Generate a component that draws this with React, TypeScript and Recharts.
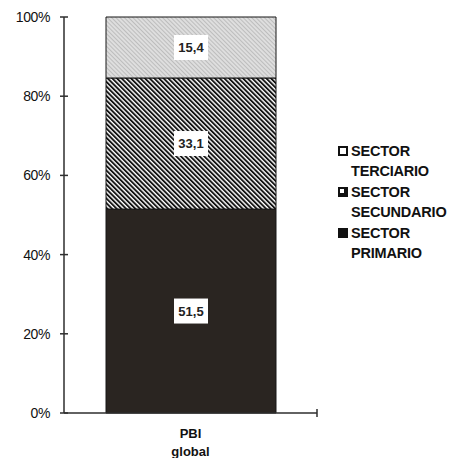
import React from "react";
import { BarChart, Bar, XAxis, YAxis, Legend, LabelList } from "recharts";

const CATEGORIES = ["PBI global"];
const CATEGORY_LINES = [["PBI", "global"]];
const PRIMARIO = [51.5];
const SECUNDARIO = [33.1];
const TERCIARIO = [15.4];
const Y_TICKS = [0, 20, 40, 60, 80, 100];
const SERIES_NAMES = {
  primario: ["SECTOR", "PRIMARIO"],
  secundario: ["SECTOR", "SECUNDARIO"],
  terciario: ["SECTOR", "TERCIARIO"],
};

const data = CATEGORIES.map((c, i) => ({
  cat: c,
  primario: PRIMARIO[i],
  secundario: SECUNDARIO[i],
  terciario: TERCIARIO[i],
}));

const W = 453;
const H = 458;
const MARGIN = { top: 17, right: 136, bottom: 4, left: 0 };
const FONT = "'Liberation Sans', Arial, Helvetica, sans-serif";
const AXIS = "#2e2e2e";

const fmt = (v: number) => v.toFixed(1).replace(".", ",");

const YTick = (props: any) => {
  const { x, y, payload } = props;
  return (
    <g>
      <line x1={x - 4} x2={x + 4} y1={y} y2={y} stroke={AXIS} strokeWidth={1.5} />
      <text
        x={x - 14}
        y={y}
        dy={5}
        textAnchor="end"
        fontFamily={FONT}
        fontSize={14}
        letterSpacing={-0.4}
        fill="#111"
      >
        {payload.value}%
      </text>
    </g>
  );
};

const XTick = (props: any) => {
  const { x, y, index } = props;
  const lines = CATEGORY_LINES[index] || [];
  const endX = W - MARGIN.right;
  return (
    <g>
      <line x1={endX} x2={endX} y1={y - 4} y2={y + 4} stroke={AXIS} strokeWidth={1.5} />
      {lines.map((l, i) => (
        <text
          key={i}
          x={x}
          y={y + 25 + i * 18}
          textAnchor="middle"
          fontFamily={FONT}
          fontSize={13}
          fontWeight="bold"
          fill="#111"
        >
          {l}
        </text>
      ))}
    </g>
  );
};

const ValueLabel = (props: any) => {
  const { x, y, width, height, value } = props;
  const cx = x + width / 2;
  const cy = y + height / 2;
  const bw = 34;
  const bh = 25;
  return (
    <g>
      <rect x={cx - bw / 2} y={cy - bh / 2} width={bw} height={bh} fill="#ffffff" />
      <text
        x={cx}
        y={cy}
        dy={4.5}
        textAnchor="middle"
        fontFamily={FONT}
        fontSize={13}
        fontWeight="bold"
        fill="#222"
      >
        {fmt(value)}
      </text>
    </g>
  );
};

const LegendIcon = ({ kind }: { kind: string }) => {
  return (
    <svg width={10} height={10} style={{ display: "block" }}>
      {kind === "terciario" && (
        <rect x={1} y={1} width={8} height={8} fill="#fff" stroke="#111" strokeWidth={2} />
      )}
      {kind === "secundario" && (
        <g>
          <rect x={0} y={0} width={10} height={10} fill="#111" />
          <rect x={2} y={2} width={4} height={4} fill="#fff" />
        </g>
      )}
      {kind === "primario" && <rect x={0} y={0} width={10} height={10} fill="#111" />}
    </svg>
  );
};

const renderLegend = (props: any) => {
  const payload = (props.payload || []).slice().reverse();
  return (
    <div style={{ fontFamily: FONT, fontWeight: "bold", fontSize: 14.5, letterSpacing: -0.2, color: "#111" }}>
      {payload.map((entry: any) => {
        const key = entry.dataKey as keyof typeof SERIES_NAMES;
        const lines = SERIES_NAMES[key] || [entry.value];
        return (
          <div key={key} style={{ position: "relative", paddingLeft: 13, lineHeight: "20px", marginBottom: 1 }}>
            <div style={{ position: "absolute", left: 0, top: 5 }}>
              <LegendIcon kind={key} />
            </div>
            {lines.map((l, i) => (
              <div key={i}>{l}</div>
            ))}
          </div>
        );
      })}
    </div>
  );
};

export default function App() {
  return (
    <div style={{ position: "absolute", left: 0, top: 0, width: W, height: H, background: "#fff" }}>
      <BarChart width={W} height={H} data={data} margin={MARGIN} barSize={170}>
        <defs>
          <pattern id="patTer" width={3} height={3} patternUnits="userSpaceOnUse" patternTransform="rotate(-45)">
            <rect x={0} y={0} width={3} height={3} fill="#dedede" />
            <rect x={0} y={0} width={1} height={3} fill="#bdbdbd" />
          </pattern>
          <pattern id="patSec" width={3.3} height={10} patternUnits="userSpaceOnUse" patternTransform="rotate(-45)">
            <rect x={0} y={0} width={3.3} height={10} fill="#ffffff" />
            <rect x={0} y={0} width={1.9} height={10} fill="#141414" />
          </pattern>
        </defs>
        <XAxis
          dataKey="cat"
          axisLine={{ stroke: AXIS, strokeWidth: 1.5 }}
          tickLine={false}
          tickSize={0}
          tickMargin={0}
          tick={<XTick />}
          height={41}
          interval={0}
        />
        <YAxis
          domain={[0, 100]}
          ticks={Y_TICKS}
          width={64}
          axisLine={{ stroke: AXIS, strokeWidth: 1.5 }}
          tickLine={false}
          tickSize={0}
          tickMargin={0}
          tick={<YTick />}
          interval={0}
        />
        <Legend
          layout="vertical"
          align="center"
          verticalAlign="middle"
          content={renderLegend}
          wrapperStyle={{ position: "absolute", left: 338, top: 141, width: 115 }}
        />
        <Bar dataKey="primario" name="SECTOR PRIMARIO" stackId="a" fill="#2a2521" stroke="#161616" strokeWidth={1} isAnimationActive={false}>
          <LabelList dataKey="primario" content={<ValueLabel />} />
        </Bar>
        <Bar dataKey="secundario" name="SECTOR SECUNDARIO" stackId="a" fill="url(#patSec)" stroke="#161616" strokeWidth={1} isAnimationActive={false}>
          <LabelList dataKey="secundario" content={<ValueLabel />} />
        </Bar>
        <Bar dataKey="terciario" name="SECTOR TERCIARIO" stackId="a" fill="url(#patTer)" stroke="#161616" strokeWidth={1} isAnimationActive={false}>
          <LabelList dataKey="terciario" content={<ValueLabel />} />
        </Bar>
      </BarChart>
    </div>
  );
}
